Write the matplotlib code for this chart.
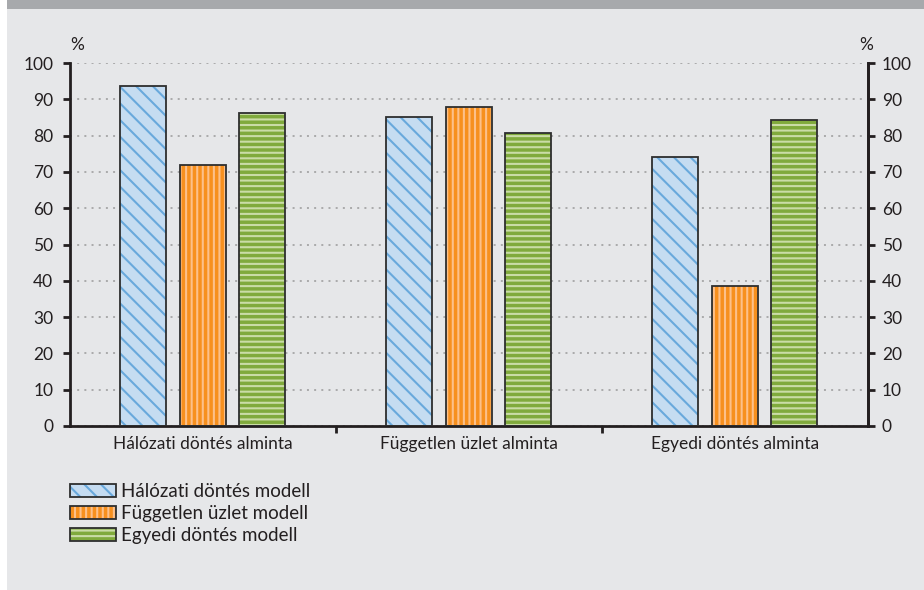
import matplotlib
matplotlib.use("Agg")
import matplotlib.pyplot as plt
from matplotlib.patches import Rectangle
import numpy as np

plt.rcParams['font.family'] = ['Lato', 'DejaVu Sans']
plt.rcParams['hatch.linewidth'] = 1.5

categories = ["Hálózati döntés alminta", "Független üzlet alminta", "Egyedi döntés alminta"]
series_names = ["Hálózati döntés modell", "Független üzlet modell", "Egyedi döntés modell"]
halozati = [93.7, 85.2, 74.0]
fuggetlen = [72.0, 87.8, 38.5]
egyedi = [86.3, 80.8, 84.2]
yticks = list(range(0, 101, 10))

series = [halozati, fuggetlen, egyedi]
fills = ["#c5dcf1", "#f7901e", "#80aa3c"]
hatch_colors = ["#69a9dc", "#fcc08a", "#cadca6"]
hatches = ["\\\\", "|||", "---"]

bg = "#e6e7e9"
txt = "#231f20"
fs = 12.5

fig = plt.figure(figsize=(9.24, 5.90), dpi=100, facecolor=bg)
ax = fig.add_axes([70 / 924, 1 - 426 / 590, 798 / 924, 363 / 590])
ax.set_facecolor(bg)

# decorative frame: dark top band and white left strip
fig.patches.append(Rectangle((0, 1 - 9 / 590), 1, 9 / 590, transform=fig.transFigure,
                             facecolor="#a7a9ac", edgecolor="none", zorder=0))
fig.patches.append(Rectangle((0, 0), 7 / 924, 1, transform=fig.transFigure,
                             facecolor="white", edgecolor="none", zorder=0))

x = np.arange(len(categories))
width = 0.173
offsets = [-0.225, 0.0, 0.222]
handles = []
for vals, fc, hc, h, off, name in zip(series, fills, hatch_colors, hatches, offsets, series_names):
    filled = ax.bar(x + off, vals, width, color=fc, edgecolor=hc, linewidth=0, hatch=h, zorder=2)
    outline = ax.bar(x + off, vals, width, facecolor="none", edgecolor="#2e2e2e", linewidth=1.3, zorder=3)
    handles.append((filled[0], outline[0]))

ax.set_xlim(-0.5, 2.5)
ax.set_ylim(0, 100)
ax.set_yticks(yticks)
ax.set_xticks(x)
ax.set_xticklabels(categories)
ax.set_xticks([0.5, 1.5], minor=True)
ax.tick_params(axis="x", which="major", length=0, pad=7, labelsize=fs, labelcolor=txt)
ax.tick_params(axis="x", which="minor", length=5, width=2, direction="out", color="#231f20")
ax.tick_params(axis="y", length=5, width=2, direction="out", color="#231f20",
               labelsize=fs, labelcolor=txt, pad=7)

ax.yaxis.grid(True, color="#9a9a9a", linewidth=1.1, linestyle=(0, (1.3, 3.4)), zorder=1)
ax.set_axisbelow(True)

ax.spines["top"].set_visible(False)
for side in ["left", "right", "bottom"]:
    ax.spines[side].set_linewidth(2)
    ax.spines[side].set_color("#231f20")

ax2 = ax.twinx()
ax2.set_ylim(0, 100)
ax2.set_yticks(yticks)
ax2.tick_params(axis="y", length=5, width=2, direction="out", color="#231f20",
                labelsize=fs, labelcolor=txt, pad=5)
for side in ["top", "left", "bottom"]:
    ax2.spines[side].set_visible(False)
ax2.spines["right"].set_linewidth(2)
ax2.spines["right"].set_color("#231f20")

ax.text(0.009, 1.05, "%", transform=ax.transAxes, ha="center", va="center", fontsize=fs, color=txt)
ax.text(0.9975, 1.05, "%", transform=ax.transAxes, ha="center", va="center", fontsize=fs, color=txt)

fig.legend(handles, series_names, loc="upper left", bbox_to_anchor=(70 / 924, 1 - 483 / 590),
           frameon=False, fontsize=13.5, labelcolor=txt, handlelength=2.45, handleheight=0.65,
           handletextpad=0.25, labelspacing=0.27, borderpad=0, borderaxespad=0)

fig.savefig("out.png", dpi=100, facecolor=bg)
